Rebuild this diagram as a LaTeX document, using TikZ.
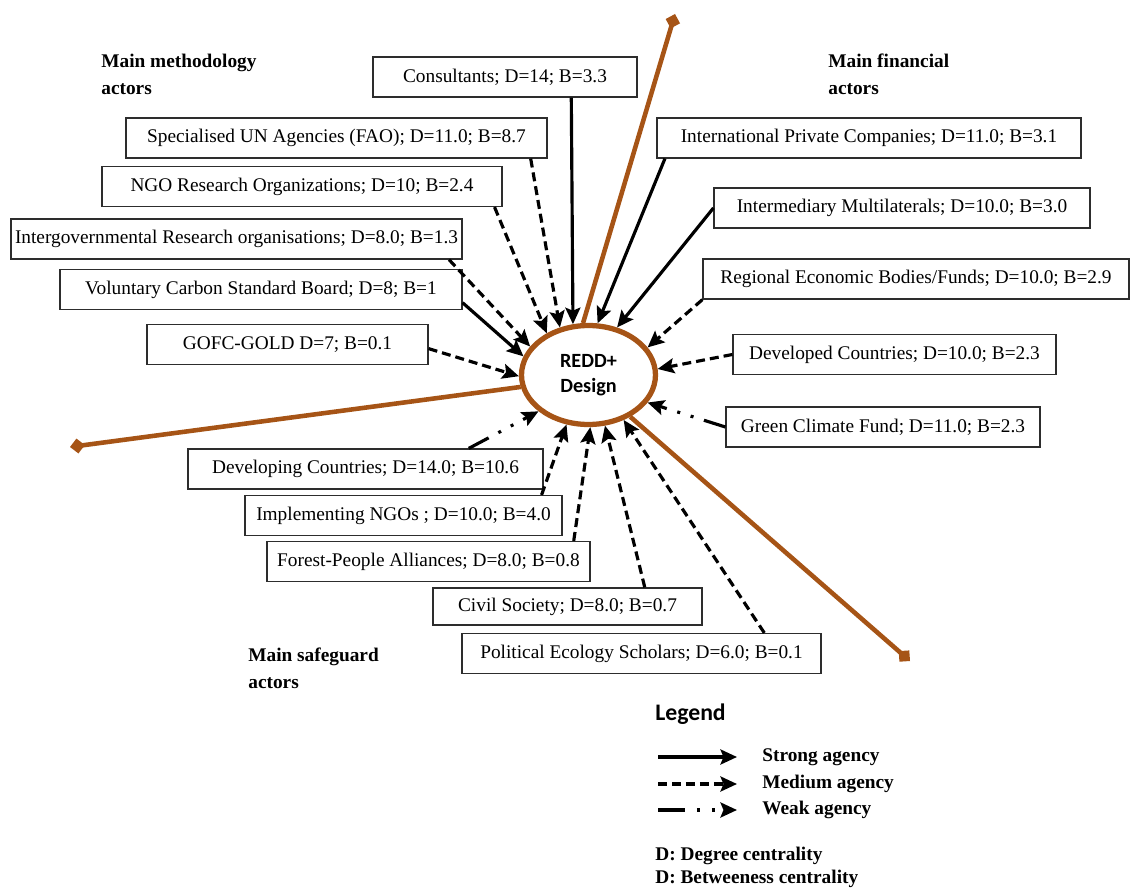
\documentclass[tikz,border=0pt]{standalone}
\usepackage{fontspec}
\setmainfont{Liberation Serif}
\newfontfamily\calibrifont{Carlito}
\usetikzlibrary{
  arrows.meta,
  calc,
  shapes.geometric
}
\definecolor{reddBrown}{RGB}{166,84,22}
\definecolor{reddLine}{RGB}{45,45,45}
\tikzset{
  reddbox/.style={
    draw=reddLine,
    line width=0.7pt,
    minimum height=0.8cm,
    inner xsep=5pt,
    inner ysep=2pt,
    fill=white,
    font=\fontsize{11}{13}\selectfont
  },
  reddcore/.style={
    ellipse,
    draw=reddBrown,
    line width=3pt,
    fill=white,
    minimum width=2.68cm,
    minimum height=1.98cm,
    align=center,
    font=\calibrifont\bfseries\fontsize{11.5}{14}\selectfont
  },
  reddheading/.style={
    anchor=west,
    align=left,
    inner sep=0pt,
    font=\bfseries\fontsize{11}{15.3}\selectfont
  },
  reddspoke/.style={
    draw=reddBrown,
    line width=2.6pt,
    -{Turned Square[length=3mm,width=3mm]}
  },
  reddagency/.style={
    line width=1.8pt,
    -{Stealth[length=3.3mm,width=3mm,inset=0.6mm]}
  },
  reddstrong/.style={reddagency},
  reddmedium/.style={reddagency, dash pattern=on 0.18cm off 0.1cm},
  reddweak/.style={reddagency,
    dash pattern=on 0.45cm off 0.22cm on 0.06cm off 0.22cm on 0.06cm off 0.22cm},
  reddlegend/.style={
    anchor=west,
    inner sep=0pt,
    font=\bfseries\fontsize{11}{13}\selectfont
  }
}

\begin{document}
\begin{tikzpicture}[x=0.02cm, y=-0.02cm]
  \useasboundingbox (0,0) rectangle (1130,888);

  % group headings
  \node[reddheading] (hmeth) at (101,74.5) {Main methodology\\actors};
  \node[reddheading] (hfin) at (828,74.5) {Main financial\\actors};
  \node[reddheading] (hsafe) at (248,668) {Main safeguard\\actors};

  % centre
  \node[reddcore] (redd) at (588.5,375) {REDD+\\Design};

  % methodology actors
  \node[reddbox, minimum width=5.28cm] (consult) at (505,77) {Consultants; D=14; B=3.3};
  \node[reddbox, minimum width=8.42cm] (unag) at (336.5,138) {Specialised UN Agencies (FAO); D=11.0; B=8.7};
  \node[reddbox, minimum width=8.00cm] (ngores) at (302,186.5) {NGO Research Organizations; D=10; B=2.4};
  \node[reddbox, minimum width=9.02cm, inner xsep=2pt] (igores) at (236.5,239) {Intergovernmental Research organisations; D=8.0; B=1.3};
  \node[reddbox, minimum width=8.04cm] (vcsb) at (261,289.5) {Voluntary Carbon Standard Board; D=8; B=1};
  \node[reddbox, minimum width=5.62cm] (gofc) at (287.5,344.5) {GOFC-GOLD D=7; B=0.1};

  % financial actors
  \node[reddbox, minimum width=8.48cm] (ipc) at (869,138) {International Private Companies; D=11.0; B=3.1};
  \node[reddbox, minimum width=7.52cm] (imult) at (902,208) {Intermediary Multilaterals; D=10.0; B=3.0};
  \node[reddbox, minimum width=8.52cm] (rebf) at (916,279) {Regional Economic Bodies/Funds; D=10.0; B=2.9};
  \node[reddbox, minimum width=6.46cm] (devd) at (894.5,354.5) {Developed Countries; D=10.0; B=2.3};
  \node[reddbox, minimum width=6.28cm] (gcf) at (883,427) {Green Climate Fund; D=11.0; B=2.3};

  % safeguard actors
  \node[reddbox, minimum width=7.10cm] (devg) at (365.5,469) {Developing Countries; D=14.0; B=10.6};
  \node[reddbox, minimum width=6.34cm] (ingo) at (403.5,515.5) {Implementing NGOs ; D=10.0; B=4.0};
  \node[reddbox, minimum width=6.46cm] (fpa) at (428.5,561.5) {Forest-People Alliances; D=8.0; B=0.8};
  \node[reddbox, minimum width=5.38cm, minimum height=0.74cm] (civ) at (567.5,606.5) {Civil Society; D=8.0; B=0.7};
  \node[reddbox, minimum width=7.18cm] (pes) at (641.5,653.5) {Political Ecology Scholars; D=6.0; B=0.1};

  % brown spokes
  \coordinate (spokeN) at (675,14);
  \coordinate (spokeW) at (70,447);
  \coordinate (spokeSE) at (910,661);
  \draw[reddspoke] (redd.96) -- (spokeN);
  \draw[reddspoke] (redd.190) -- (spokeW);
  \draw[reddspoke] (redd.315) -- (spokeSE);

  % agency links
  \draw[reddstrong] ($(consult.south west)!0.75!(consult.south east)$) -- (redd.107);
  \draw[reddmedium] ($(unag.south west)!0.96!(unag.south east)$) -- (redd.121);
  \draw[reddmedium] ($(ngores.south west)!0.98!(ngores.south east)$) -- (redd.135);
  \draw[reddmedium] ($(igores.south west)!0.97!(igores.south east)$) -- (redd.154);
  \draw[reddstrong] ($(vcsb.north east)!0.82!(vcsb.south east)$) -- (redd.164);
  \draw[reddmedium] ($(gofc.north east)!0.6!(gofc.south east)$) -- (redd.181);

  \draw[reddstrong] ($(ipc.south west)!0.02!(ipc.south east)$) -- (redd.80);
  \draw[reddstrong] (imult.west) -- (redd.59);
  \draw[reddmedium] (rebf.south west) -- (redd.25);
  \draw[reddmedium] (devd.west) -- (redd.5);
  \draw[reddweak] (gcf.west) -- (redd.335);

  \draw[reddweak] ($(devg.north west)!0.79!(devg.north east)$) -- (redd.216);
  \draw[reddmedium] ($(ingo.north west)!0.934!(ingo.north east)$) -- (redd.246);
  \draw[reddmedium] ($(fpa.north west)!0.948!(fpa.north east)$) -- (redd.272);
  \draw[reddmedium] ($(civ.north west)!0.786!(civ.north east)$) -- (redd.288);
  \draw[reddmedium] ($(pes.north west)!0.841!(pes.north east)$) -- (redd.308);

  % legend
  \node[anchor=west, inner sep=0pt, font=\calibrifont\bfseries\fontsize{13.5}{16}\selectfont] (legtitle) at (655,714) {Legend};
  \coordinate (legA) at (658,757);
  \coordinate (legB) at (737,757);
  \coordinate (legC) at (658,784);
  \coordinate (legD) at (737,784);
  \coordinate (legE) at (658,810);
  \coordinate (legF) at (737,810);
  \draw[reddstrong] (legA) -- (legB);
  \draw[reddmedium] (legC) -- (legD);
  \draw[reddagency, dash pattern=on 0.54cm off 0.24cm on 0.06cm off 0.24cm on 0.06cm off 0.24cm] (legE) -- (legF);
  \node[reddlegend] (lstrong) at (762,757) {Strong agency};
  \node[reddlegend] (lmedium) at (762,784) {Medium agency};
  \node[reddlegend] (lweak) at (762,810) {Weak agency};
  \node[reddlegend] (ldeg) at (655,856) {D: Degree centrality};
  \node[reddlegend] (lbet) at (655,879) {D: Betweeness centrality};
\end{tikzpicture}
\end{document}
